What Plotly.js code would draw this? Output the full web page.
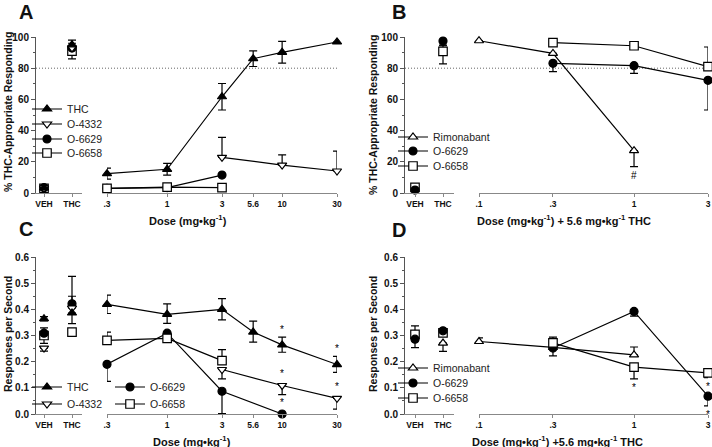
<!DOCTYPE html>
<html><head><meta charset="utf-8">
<script src="https://cdn.plot.ly/plotly-3.0.1.min.js"></script>
<style>html,body{margin:0;padding:0;background:#fff}#chart{width:712px;height:447px}</style>
</head><body><div id="chart"></div>
<script>
// ================= DATA =================
const ctrlCats = ['VEH', 'THC'];
const tickDosesAC = [0.3, 1, 3, 5.6, 10, 30];
const tickTextAC = ['.3', '1', '3', '5.6', '10', '30'];
const tickDosesBD = [0.1, 0.3, 1, 3];
const tickTextBD = ['.1', '.3', '1', '3'];
const thresholdLine = 80;

// ---- Panel A : % THC-appropriate responding ----
const A_THC_dose = [0.3, 1, 3, 5.6, 10, 30];
const A_THC_val  = [12.4, 15.2, 61.7, 86.1, 90.2, 96.8];
const A_THC_up   = [3.5, 3.8, 8.5, 5, 7, 0];
const A_THC_dn   = [3.5, 3.8, 8.5, 5, 7, 0];
const A_THC_ctrl = [3.2, 95];
const A_THC_ctrlUp = [0, 3];
const A_THC_ctrlDn = [0, 3];

const A_O4332_dose = [3, 10, 30];
const A_O4332_val  = [22.9, 17.9, 14.1];
const A_O4332_up   = [12.8, 6.5, 12.8];
const A_O4332_dn   = [0, 0, 0];
const A_O4332_ctrl = [3.2, 93];

const A_O6629_dose = [0.3, 1, 3];
const A_O6629_val  = [3.0, 3.5, 11.5];
const A_O6629_ctrl = [3.4, 93];

const A_O6658_dose = [0.3, 1, 3];
const A_O6658_val  = [3.0, 3.8, 3.5];
const A_O6658_ctrl = [3.0, 91];
const A_O6658_ctrlUp = [0, 5];
const A_O6658_ctrlDn = [0, 5];

// ---- Panel B : % THC-appropriate responding, + 5.6 mg/kg THC ----
const B_Rim_dose = [0.1, 0.3, 1];
const B_Rim_val  = [97.6, 89.5, 27.1];
const B_Rim_up   = [0, 0, 0];
const B_Rim_dn   = [0, 0, 10.2];

const B_O6629_dose = [0.3, 1, 3];
const B_O6629_val  = [83.1, 81.6, 72.2];
const B_O6629_up   = [0, 0, 0];
const B_O6629_dn   = [5.3, 4.9, 19];
const B_O6629_ctrl = [1.9, 97.4];
const B_O6629_ctrlUp = [0, 0];
const B_O6629_ctrlDn = [0, 3];

const B_O6658_dose = [0.3, 1, 3];
const B_O6658_val  = [96.4, 94.4, 81];
const B_O6658_up   = [0, 0, 12.6];
const B_O6658_dn   = [0, 0, 0];
const B_O6658_ctrl = [3.6, 90.8];
const B_O6658_ctrlUp = [0, 4];
const B_O6658_ctrlDn = [0, 8];

// ---- Panel C : responses per second ----
const C_THC_dose = [0.3, 1, 3, 5.6, 10, 30];
const C_THC_val  = [0.419, 0.381, 0.400, 0.313, 0.264, 0.189];
const C_THC_up   = [0.035, 0.040, 0.041, 0.042, 0.030, 0.031];
const C_THC_dn   = [0.035, 0.035, 0.040, 0.038, 0.028, 0.030];
const C_THC_ctrl = [0.364, 0.386];
const C_THC_ctrlUp = [0.008, 0];
const C_THC_ctrlDn = [0.008, 0.041];

const C_O4332_dose = [3, 10, 30];
const C_O4332_val  = [0.170, 0.109, 0.060];
const C_O4332_up   = [0, 0, 0];
const C_O4332_dn   = [0.036, 0.035, 0.041];
const C_O4332_ctrl = [0.252, 0.405];
const C_O4332_ctrlUp = [0, 0.045];
const C_O4332_ctrlDn = [0.012, 0];

const C_O6629_dose = [0.3, 1, 3, 10];
const C_O6629_val  = [0.190, 0.309, 0.087, 0.0];
const C_O6629_up   = [0, 0, 0, 0];
const C_O6629_dn   = [0.065, 0, 0.085, 0];
const C_O6629_ctrl = [0.309, 0.421];
const C_O6629_ctrlUp = [0.02, 0.105];
const C_O6629_ctrlDn = [0.02, 0];

const C_O6658_dose = [0.3, 1, 3];
const C_O6658_val  = [0.281, 0.289, 0.204];
const C_O6658_up   = [0.032, 0, 0.042];
const C_O6658_dn   = [0, 0, 0];
const C_O6658_ctrl = [0.300, 0.313];
const C_O6658_ctrlUp = [0, 0];
const C_O6658_ctrlDn = [0.03, 0.012];

// ---- Panel D : responses per second, + 5.6 mg/kg THC ----
const D_Rim_dose = [0.1, 0.3, 1];
const D_Rim_val  = [0.277, 0.255, 0.226];
const D_Rim_up   = [0.014, 0, 0.030];
const D_Rim_dn   = [0, 0, 0];
const D_Rim_ctrl = [null, 0.271];
const D_Rim_ctrlUp = [0, 0];
const D_Rim_ctrlDn = [0, 0.032];

const D_O6629_dose = [0.3, 1, 3];
const D_O6629_val  = [0.252, 0.392, 0.068];
const D_O6629_up   = [0, 0, 0];
const D_O6629_dn   = [0.030, 0.018, 0.037];
const D_O6629_ctrl = [0.286, 0.318];
const D_O6629_ctrlUp = [0, 0];
const D_O6629_ctrlDn = [0.032, 0];

const D_O6658_dose = [0.3, 1, 3];
const D_O6658_val  = [0.272, 0.179, 0.157];
const D_O6658_up   = [0.022, 0, 0];
const D_O6658_dn   = [0, 0.045, 0.018];
const D_O6658_ctrl = [0.304, 0.31];
const D_O6658_ctrlUp = [0.033, 0];
const D_O6658_ctrlDn = [0, 0];

// significance marks: [series, dose, mark, side]
const B_sig = [['Rimonabant', 1, '#', 'below']];
const C_sig = [['THC', 10, '*', 'above'], ['THC', 30, '*', 'above'],
               ['O-4332', 10, '*', 'above'], ['O-4332', 30, '*', 'above'],
               ['O-6629', 10, '*', 'above']];
const D_sig = [['O-6658', 1, '*', 'below'], ['O-6658', 3, '*', 'below'],
               ['O-6629', 3, '*', 'below']];

// ================= STYLE / LAYOUT =================
const W = 712, H = 447;
const FONT = 'Liberation Sans, Arial, sans-serif';
const fx = p => p / W;
const fy = p => 1 - p / H;

const STY = {
  'THC':        {symbol: 'triangle-up',   color: '#000', size: 8},
  'O-4332':     {symbol: 'triangle-down', color: '#fff', size: 8},
  'O-6629':     {symbol: 'circle',        color: '#000', size: 8},
  'O-6658':     {symbol: 'square',        color: '#fff', size: 8.5},
  'Rimonabant': {symbol: 'triangle-up',   color: '#fff', size: 8}
};

function S(name, dose, val, up, dn, ctrl, ctrlUp, ctrlDn, legendId, lx, ly) {
  return {name, dose, val, up, dn, ctrl, ctrlUp, ctrlDn, legendId, lx, ly};
}

const panels = [
  {ctrlX: 'x', mainX: 'x2', y: 'y', sig: [], series: [
    S('THC', A_THC_dose, A_THC_val, A_THC_up, A_THC_dn, A_THC_ctrl, A_THC_ctrlUp, A_THC_ctrlDn, 'legend', 67, 109),
    S('O-4332', A_O4332_dose, A_O4332_val, A_O4332_up, A_O4332_dn, A_O4332_ctrl, null, null, 'legend2', 67, 124),
    S('O-6629', A_O6629_dose, A_O6629_val, null, null, A_O6629_ctrl, null, null, 'legend3', 67, 139),
    S('O-6658', A_O6658_dose, A_O6658_val, null, null, A_O6658_ctrl, A_O6658_ctrlUp, A_O6658_ctrlDn, 'legend4', 67, 153)
  ]},
  {ctrlX: 'x3', mainX: 'x4', y: 'y2', sig: B_sig, series: [
    S('Rimonabant', B_Rim_dose, B_Rim_val, B_Rim_up, B_Rim_dn, null, null, null, 'legend5', 433, 137),
    S('O-6629', B_O6629_dose, B_O6629_val, B_O6629_up, B_O6629_dn, B_O6629_ctrl, B_O6629_ctrlUp, B_O6629_ctrlDn, 'legend6', 433, 151),
    S('O-6658', B_O6658_dose, B_O6658_val, B_O6658_up, B_O6658_dn, B_O6658_ctrl, B_O6658_ctrlUp, B_O6658_ctrlDn, 'legend7', 433, 166)
  ]},
  {ctrlX: 'x5', mainX: 'x6', y: 'y3', sig: C_sig, series: [
    S('THC', C_THC_dose, C_THC_val, C_THC_up, C_THC_dn, C_THC_ctrl, C_THC_ctrlUp, C_THC_ctrlDn, 'legend8', 67, 387),
    S('O-4332', C_O4332_dose, C_O4332_val, C_O4332_up, C_O4332_dn, C_O4332_ctrl, C_O4332_ctrlUp, C_O4332_ctrlDn, 'legend9', 67, 404),
    S('O-6629', C_O6629_dose, C_O6629_val, C_O6629_up, C_O6629_dn, C_O6629_ctrl, C_O6629_ctrlUp, C_O6629_ctrlDn, 'legend10', 150, 387),
    S('O-6658', C_O6658_dose, C_O6658_val, C_O6658_up, C_O6658_dn, C_O6658_ctrl, C_O6658_ctrlUp, C_O6658_ctrlDn, 'legend11', 150, 404)
  ]},
  {ctrlX: 'x7', mainX: 'x8', y: 'y4', sig: D_sig, series: [
    S('Rimonabant', D_Rim_dose, D_Rim_val, D_Rim_up, D_Rim_dn, D_Rim_ctrl, D_Rim_ctrlUp, D_Rim_ctrlDn, 'legend12', 433, 368),
    S('O-6629', D_O6629_dose, D_O6629_val, D_O6629_up, D_O6629_dn, D_O6629_ctrl, D_O6629_ctrlUp, D_O6629_ctrlDn, 'legend13', 433, 383),
    S('O-6658', D_O6658_dose, D_O6658_val, D_O6658_up, D_O6658_dn, D_O6658_ctrl, D_O6658_ctrlUp, D_O6658_ctrlDn, 'legend14', 433, 398)
  ]}
];

function zeros(n) { return new Array(n).fill(0); }
function errObj(up, dn) {
  return {type: 'data', symmetric: false, array: up, arrayminus: dn,
          color: '#000', thickness: 1.2, width: 4};
}
function markerOf(name) {
  const s = STY[name];
  return {symbol: s.symbol, size: s.size, color: s.color, line: {color: '#000', width: 1.2}};
}

const traces = [];
const annotations = [];
const layout = {
  width: W, height: H, margin: {l: 0, r: 0, t: 0, b: 0},
  paper_bgcolor: '#fff', plot_bgcolor: 'rgba(0,0,0,0)',
  showlegend: true, font: {family: FONT, color: '#111'},
  shapes: [], annotations: annotations
};

panels.forEach(p => {
  const errT = [], mainT = [], ctrlErrT = [], ctrlT = [];
  p.series.forEach(s => {
    const n = s.dose.length;
    if (s.up || s.dn) {
      errT.push({type: 'scatter', mode: 'markers', x: s.dose, y: s.val,
        xaxis: p.mainX, yaxis: p.y, showlegend: false, hoverinfo: 'skip',
        marker: {size: 1, opacity: 0}, cliponaxis: false,
        error_y: errObj(s.up || zeros(n), s.dn || zeros(n))});
    }
    mainT.push({type: 'scatter', mode: 'lines+markers', name: s.name,
      x: s.dose, y: s.val, xaxis: p.mainX, yaxis: p.y, cliponaxis: false,
      line: {color: '#000', width: 1.2}, marker: markerOf(s.name),
      legend: s.legendId, showlegend: true});
    if (s.ctrl) {
      if (s.ctrlUp || s.ctrlDn) {
        ctrlErrT.push({type: 'scatter', mode: 'markers', x: ctrlCats, y: s.ctrl,
          xaxis: p.ctrlX, yaxis: p.y, showlegend: false, hoverinfo: 'skip',
          marker: {size: 1, opacity: 0}, cliponaxis: false,
          error_y: errObj(s.ctrlUp || [0, 0], s.ctrlDn || [0, 0])});
      }
      ctrlT.unshift({type: 'scatter', mode: 'markers', name: s.name, x: ctrlCats, y: s.ctrl,
        xaxis: p.ctrlX, yaxis: p.y, showlegend: false, cliponaxis: false,
        marker: markerOf(s.name)});
    }
    layout[s.legendId] = {
      x: fx(s.lx - 40), y: fy(s.ly), xanchor: 'left', yanchor: 'middle',
      bgcolor: 'rgba(0,0,0,0)', borderwidth: 0, orientation: 'v',
      font: {family: FONT, size: 10.5, color: '#222'}, itemclick: false, itemdoubleclick: false
    };
  });
  traces.push(...ctrlErrT, ...ctrlT, ...errT, ...mainT);

  // significance marks derived from the series data
  p.sig.forEach(([name, dose, mark, side]) => {
    const s = p.series.find(q => q.name === name);
    const i = s.dose.indexOf(dose);
    const up = s.up ? s.up[i] : 0, dn = s.dn ? s.dn[i] : 0;
    const above = side === 'above';
    annotations.push({
      xref: p.mainX, yref: p.y, x: Math.log10(dose),
      y: above ? s.val[i] + up : s.val[i] - dn,
      text: mark, showarrow: false,
      xanchor: 'center', yanchor: above ? 'bottom' : 'top',
      yshift: above ? (up > 0 ? 0 : 4) : (dn > 0 ? -1 : -5),
      font: {family: FONT, size: 10, color: 'black'}
    });
  });
});

// ----- axes -----
const tickFontX = {family: FONT, size: 8.5, color: '#111', weight: 'bold'};
const tickFontY = {family: FONT, size: 10, color: '#111', weight: 'bold'};
function ctrlAxis(d0, d1, vehPx, anchor) {
  const u = 28;
  return {domain: [fx(d0), fx(d1)], anchor, type: 'category',
    categoryorder: 'array', categoryarray: ctrlCats,
    range: [(d0 - vehPx) / u, (d1 - vehPx) / u],
    showline: true, linecolor: '#888', linewidth: 1, ticks: 'outside', ticklen: 3,
    tickcolor: '#888', tickwidth: 1, showgrid: false, zeroline: false,
    tickfont: tickFontX, fixedrange: true};
}
function mainAxis(d0, d1, tv, tt, anchor) {
  return {domain: [fx(d0), fx(d1)], anchor, type: 'log',
    range: [Math.log10(tv[0]), Math.log10(tv[tv.length - 1])],
    tickvals: tv, ticktext: tt,
    showline: true, linecolor: '#888', linewidth: 1, ticks: 'outside', ticklen: 3,
    tickcolor: '#888', tickwidth: 1, showgrid: false, zeroline: false,
    tickfont: tickFontX, fixedrange: true};
}
function yAxis(top, bot, range, dtick, fmt, anchor) {
  return {domain: [fy(bot), fy(top)], anchor, range, dtick, tick0: 0, tickformat: fmt,
    showline: true, linecolor: '#555', linewidth: 1, ticks: 'outside', ticklen: 4,
    tickcolor: '#555', tickwidth: 1, showgrid: false, zeroline: false,
    tickfont: tickFontY, fixedrange: true,
    minor: {ticks: 'outside', ticklen: 2, dtick: dtick / 2, tickcolor: '#555', tickwidth: 1, showgrid: false}};
}
layout.xaxis  = ctrlAxis(36, 82, 44, 'y');
layout.xaxis2 = mainAxis(107, 337, tickDosesAC, tickTextAC, 'y');
layout.yaxis  = yAxis(37, 193, [0, 100], 20, 'd', 'x');
layout.xaxis3 = ctrlAxis(405, 454, 415, 'y2');
layout.xaxis4 = mainAxis(479, 708, tickDosesBD, tickTextBD, 'y2');
layout.yaxis2 = yAxis(37, 193, [0, 100], 20, 'd', 'x3');
layout.xaxis5 = ctrlAxis(36, 82, 44, 'y3');
layout.xaxis6 = mainAxis(107, 337, tickDosesAC, tickTextAC, 'y3');
layout.yaxis3 = yAxis(257, 414, [0, 0.6], 0.1, '.1f', 'x5');
layout.xaxis7 = ctrlAxis(405, 454, 415, 'y4');
layout.xaxis8 = mainAxis(479, 708, tickDosesBD, tickTextBD, 'y4');
layout.yaxis4 = yAxis(257, 414, [0, 0.6], 0.1, '.1f', 'x7');

// dotted 80% criterion lines
const dotLine = {color: '#666', width: 1, dash: '1px,2px'};
layout.shapes.push({type: 'line', xref: 'paper', yref: 'y', x0: fx(36), x1: fx(337),
  y0: thresholdLine, y1: thresholdLine, line: dotLine, layer: 'below'});
layout.shapes.push({type: 'line', xref: 'paper', yref: 'y2', x0: fx(405), x1: fx(708),
  y0: thresholdLine, y1: thresholdLine, line: dotLine, layer: 'below'});

// text labels
function txt(text, x, y, size, opts) {
  annotations.push(Object.assign({xref: 'paper', yref: 'paper', x: fx(x), y: fy(y),
    text: '<b>' + text + '</b>',
    showarrow: false, xanchor: 'center', yanchor: 'middle',
    font: {family: FONT, size: size, color: '#111'}}, opts || {}));
}
txt('A', 17, 12, 20, {xanchor: 'left'});
txt('B', 390, 12, 20, {xanchor: 'left'});
txt('C', 17, 229, 20, {xanchor: 'left'});
txt('D', 390, 230, 20, {xanchor: 'left'});
txt('% THC-Appropriate Responding', 8, 112, 10.5, {textangle: -90});
txt('% THC-Appropriate Responding', 373, 115, 10.5, {textangle: -90});
txt('Responses per Second', 8, 334, 10.5, {textangle: -90});
txt('Responses per Second', 373, 334, 10.5, {textangle: -90});
txt('Dose (mg•kg<sup>-1</sup>)', 188, 220, 11);
txt('Dose (mg•kg<sup>-1</sup>) + 5.6 mg•kg<sup>-1</sup> THC', 564, 220, 11);
txt('Dose (mg•kg<sup>-1</sup>)', 192, 441, 11);
txt('Dose (mg•kg<sup>-1</sup>) +5.6 mg•kg<sup>-1</sup> THC', 557, 441, 11);

Plotly.newPlot('chart', traces, layout, {staticPlot: true, displayModeBar: false});
</script></body></html>
